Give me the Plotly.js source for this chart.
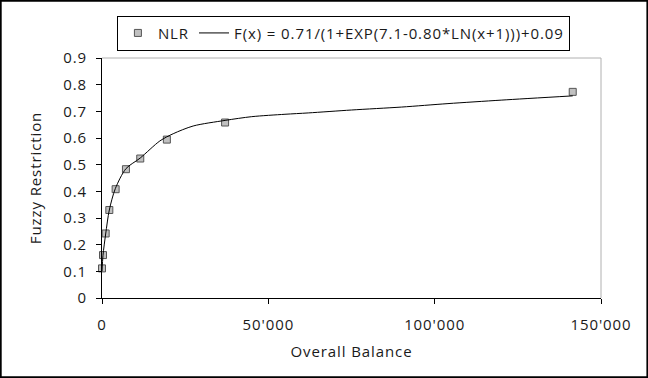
<!DOCTYPE html>
<html>
<head>
<meta charset="utf-8">
<script src="https://cdn.plot.ly/plotly-3.0.1.min.js"></script>
<style>
  html, body { margin: 0; padding: 0; background: #fff; }
  #chart { width: 648px; height: 378px; }
  svg text { letter-spacing: 0.9px; }
</style>
</head>
<body>
<div id="chart"></div>
<script>
// Observed data points (NLR)
const balance = [0, 300, 1100, 2200, 4100, 7200, 11500, 19500, 37000, 141500];
const restriction = [0.111, 0.161, 0.242, 0.330, 0.408, 0.483, 0.523, 0.594, 0.658, 0.773];

// Fitted curve
const fitX = [0, 300, 1100, 2200, 4000, 7200, 11500, 17400, 21400, 27400, 37000, 45000, 55000, 62000, 75000, 90000, 104000, 120000, 141500];
const fitY = [0.100, 0.160, 0.240, 0.330, 0.410, 0.485, 0.525, 0.589, 0.616, 0.645, 0.666, 0.680, 0.689, 0.694, 0.705, 0.716, 0.729, 0.742, 0.758];

const xTickVals = [0, 50000, 100000, 150000];
const xTickText = ["0", "50'000", "100'000", "150'000"];

const seriesName = "NLR";
const fitName = "F(x) = 0.71/(1+EXP(7.1-0.80*LN(x+1)))+0.09";

const W = 648, H = 378;
const L = 101.5, R = 46.5, T = 57.5, B = 79.5;
const pw = W - L - R, ph = H - T - B;

const font = "Open Sans, sans-serif";
const fs = 15;
const txt = "#1a1a1a";

const traces = [
  {
    x: balance, y: restriction, name: seriesName,
    type: "scatter", mode: "markers",
    marker: { symbol: "square", size: 7, color: "#c0c0c0", line: { color: "#555555", width: 1 } },
    cliponaxis: false
  },
  {
    x: fitX, y: fitY, name: fitName,
    type: "scatter", mode: "lines",
    line: { color: "#000000", width: 1, shape: "spline", smoothing: 0.8 },
    cliponaxis: false
  }
];

const layout = {
  width: W, height: H,
  margin: { l: L, r: R, t: T, b: B, pad: 0 },
  paper_bgcolor: "#ffffff",
  plot_bgcolor: "#ffffff",
  font: { family: font, size: fs, color: txt },
  showlegend: true,
  legend: {
    orientation: "h",
    x: (343.4 - L) / pw, xanchor: "center",
    y: (H - B - 15) / ph, yanchor: "top",
    bordercolor: "#000000", borderwidth: 1,
    bgcolor: "#ffffff",
    font: { family: font, size: fs, color: txt },
    itemwidth: 30,
    tracegroupgap: 0
  },
  xaxis: {
    range: [0, 150000],
    tickvals: xTickVals, ticktext: xTickText,
    showgrid: false, zeroline: false,
    showline: true, linecolor: "#000000", linewidth: 1,
    ticks: "outside", ticklen: 5, tickcolor: "#000000", tickwidth: 1,
    ticklabelstandoff: 8,
    tickfont: { family: font, size: fs, color: txt },
    title: { text: "Overall Balance", font: { family: font, size: fs, color: txt }, standoff: 13 }
  },
  yaxis: {
    range: [0, 0.9],
    dtick: 0.1, tick0: 0,
    showgrid: false, zeroline: false,
    showline: true, linecolor: "#000000", linewidth: 1,
    ticks: "outside", ticklen: 5, tickcolor: "#000000", tickwidth: 1,
    ticklabelstandoff: 6,
    tickfont: { family: font, size: fs, color: txt },
    title: { text: "Fuzzy Restriction", font: { family: font, size: fs, color: txt }, standoff: 17 }
  },
  shapes: [
    { type: "line", xref: "paper", yref: "paper", x0: 0, x1: 1, y0: 1, y1: 1, line: { color: "#b0b0b0", width: 1 } },
    { type: "line", xref: "paper", yref: "paper", x0: 1, x1: 1, y0: 0, y1: 1, line: { color: "#b0b0b0", width: 1 } },
    { type: "rect", xref: "paper", yref: "paper",
      x0: -L / pw, x1: (W - L) / pw, y0: -B / ph, y1: (H - B) / ph,
      line: { color: "#000000", width: 2 }, fillcolor: "rgba(0,0,0,0)" }
  ]
};

Plotly.newPlot("chart", traces, layout, { displayModeBar: false, staticPlot: true });
</script>
</body>
</html>
